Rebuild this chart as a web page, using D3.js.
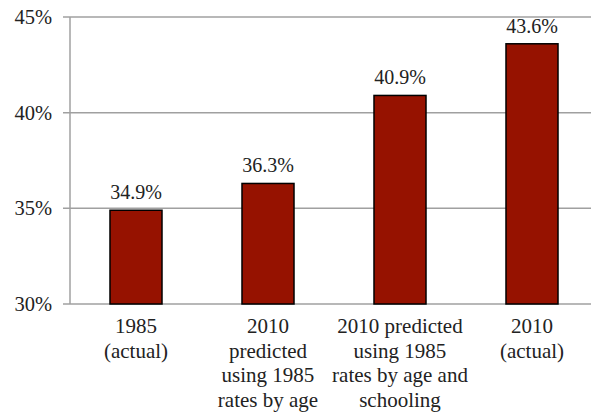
<!DOCTYPE html>
<html>
<head>
<meta charset="utf-8">
<script src="https://cdn.jsdelivr.net/npm/d3@7"></script>
<style>
svg text, svg tspan { font-family: "Liberation Serif", serif !important; }
</style>
</head>
<body style="margin:0">
<svg width="591" height="415"></svg>
<script>
// data
var categories = [
    ['1985', '(actual)'],
    ['2010', 'predicted', 'using 1985', 'rates by age'],
    ['2010 predicted', 'using 1985', 'rates by age and', 'schooling'],
    ['2010', '(actual)']
];
var values = [34.9, 36.3, 40.9, 43.6];
var yTicks = [30, 35, 40, 45];

var svg = d3.select('svg');
var padding = {t: 17, r: 0, b: 111, l: 70};
var plotRight = 598;
var plotBottom = 304;

var xScale = d3.scaleBand()
    .domain(d3.range(values.length))
    .range([padding.l, plotRight])
    .paddingInner(0.606)
    .paddingOuter(0.303);
var yScale = d3.scaleLinear().domain([30, 45]).range([plotBottom, padding.t]);

// gridlines + ticks
svg.selectAll('.grid')
    .data(yTicks)
    .enter()
    .append('line')
    .attr('x1', padding.l - 7)
    .attr('x2', 591)
    .attr('y1', function(d) { return yScale(d); })
    .attr('y2', function(d) { return yScale(d); })
    .attr('stroke', '#a0a0a0')
    .attr('stroke-width', 1.5);

svg.append('line')
    .attr('x1', padding.l).attr('x2', padding.l)
    .attr('y1', yScale(45)).attr('y2', yScale(30))
    .attr('stroke', '#a0a0a0')
    .attr('stroke-width', 1.5);

svg.selectAll('.ylab')
    .data(yTicks)
    .enter()
    .append('text')
    .attr('x', 52)
    .attr('y', function(d) { return yScale(d) + 7; })
    .attr('text-anchor', 'end')
    .style('font-family', 'Liberation Serif', 'important')
    .attr('font-size', 20.5)
    .attr('fill', '#222')
    .text(function(d) { return d + '%'; });

// bars
svg.selectAll('.bar')
    .data(values)
    .enter()
    .append('rect')
    .attr('x', function(d, i) { return xScale(i); })
    .attr('width', xScale.bandwidth())
    .attr('y', function(d) { return yScale(d); })
    .attr('height', function(d) { return plotBottom - yScale(d); })
    .attr('fill', '#961200')
    .attr('stroke', '#000')
    .attr('stroke-width', 1.5);

// value labels
svg.selectAll('.vlab')
    .data(values)
    .enter()
    .append('text')
    .attr('x', function(d, i) { return xScale(i) + xScale.bandwidth() / 2; })
    .attr('y', function(d) { return yScale(d) - 11; })
    .attr('text-anchor', 'middle')
    .style('font-family', 'Liberation Serif', 'important')
    .attr('font-size', 20)
    .attr('fill', '#222')
    .text(function(d) { return d.toFixed(1) + '%'; });

// category labels, one tspan per line
svg.selectAll('.cat')
    .data(categories)
    .enter()
    .append('text')
    .attr('text-anchor', 'middle')
    .style('font-family', 'Liberation Serif', 'important')
    .attr('font-size', 21)
    .attr('fill', '#222')
    .each(function(lines, i) {
        d3.select(this).selectAll('tspan')
            .data(lines)
            .enter()
            .append('tspan')
            .attr('x', xScale(i) + xScale.bandwidth() / 2)
            .attr('y', function(d, j) { return 333 + j * 24.5; })
            .text(function(d) { return d; });
    });
</script>
</body>
</html>
